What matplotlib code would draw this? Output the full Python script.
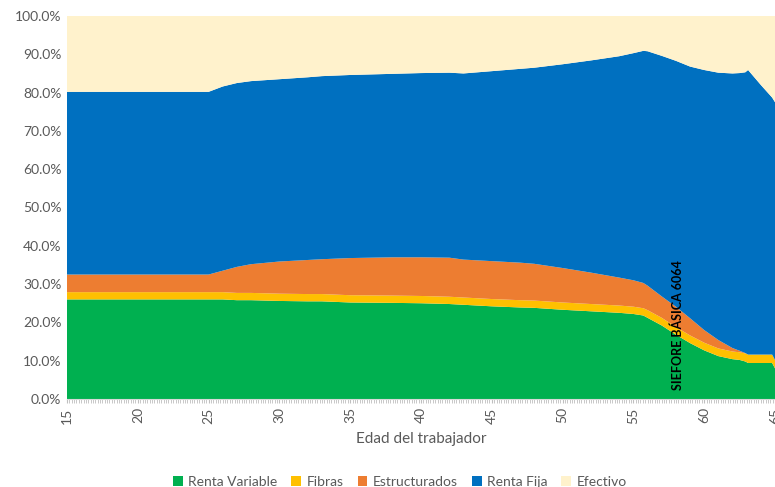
import numpy as np
import matplotlib
matplotlib.use("Agg")
import matplotlib.pyplot as plt
from matplotlib.ticker import MultipleLocator, PercentFormatter

plt.rcParams['font.family'] = ['Lato', 'DejaVu Sans']

# Edad del trabajador
edades = [15, 20, 25, 26, 27, 28, 30, 32, 33, 35, 38, 40, 42, 43, 45, 47, 48,
          50, 52, 54, 55, 55.7, 56, 57, 58, 59, 60, 61, 62, 62.5, 62.9, 63.1,
          64, 64.8, 65]

# composicion de la cartera (%)
renta_variable = [26.0, 26.0, 26.0, 26.0, 25.8, 25.8, 25.6, 25.5, 25.5, 25.2, 25.1,
                  25.0, 24.8, 24.6, 24.2, 23.9, 23.8, 23.3, 22.9, 22.5, 22.2, 21.8,
                  21.2, 19.2, 16.8, 14.6, 12.7, 11.2, 10.4, 10.2, 9.8, 9.4,
                  9.4, 9.4, 8.0]
fibras = [1.9, 1.9, 1.9, 1.9, 1.9, 1.9, 1.9, 1.9, 1.9, 1.9, 1.9,
          1.9, 1.9, 1.9, 1.9, 1.9, 1.9, 1.9, 1.9, 1.9, 1.9, 1.9,
          2.0, 2.0, 2.0, 2.0, 2.0, 2.0, 2.0, 2.0, 2.1, 2.2,
          2.2, 2.2, 2.2]
estructurados = [4.6, 4.6, 4.6, 5.6, 6.8, 7.5, 8.4, 8.9, 9.1, 9.7, 10.0,
                 10.1, 10.2, 9.9, 9.9, 9.8, 9.6, 9.0, 8.2, 7.3, 6.9, 6.6,
                 6.4, 5.6, 5.3, 4.5, 3.3, 2.2, 0.9, 0.4, 0.1, 0.0,
                 0.0, 0.0, 0.0]
renta_fija_top = [80.2, 80.2, 80.2, 81.6, 82.5, 83.0, 83.5, 84.0, 84.3, 84.6, 84.9,
                  85.1, 85.2, 85.0, 85.6, 86.2, 86.5, 87.4, 88.4, 89.5, 90.3, 90.9,
                  90.8, 89.6, 88.3, 86.8, 85.9, 85.2, 85.0, 85.1, 85.3, 85.9,
                  82.0, 78.7, 77.5]

base = np.array(renta_variable) + np.array(fibras) + np.array(estructurados)
renta_fija = list(np.array(renta_fija_top) - base)
efectivo = list(100 - np.array(renta_fija_top))

series = ['Renta Variable', 'Fibras', 'Estructurados', 'Renta Fija', 'Efectivo']
colores = ['#00B050', '#FFC000', '#ED7D31', '#0070C0', '#FFF2CC']

fig = plt.figure(figsize=(7.75, 4.87), dpi=100)
ax = fig.add_axes([67 / 775, 1 - 399 / 487, 1 - 67 / 775, (399 - 16) / 487])

ax.stackplot(edades, renta_variable, fibras, estructurados, renta_fija, efectivo,
             colors=colores, labels=series, linewidth=0)
ax.axhline(100, color='#D9D9D9', lw=0.8, zorder=0)

ax.set_xlim(15, 65)
ax.set_ylim(0, 100)
ax.xaxis.set_major_locator(MultipleLocator(5))
ax.xaxis.set_minor_locator(MultipleLocator(1 / 6))
ax.yaxis.set_major_locator(MultipleLocator(10))
ax.yaxis.set_major_formatter(PercentFormatter(decimals=1))

for s in ['top', 'right', 'left']:
    ax.spines[s].set_visible(False)
ax.spines['bottom'].set_color('#D9D9D9')
ax.tick_params(axis='x', which='both', length=3, color='#BFBFBF', labelrotation=90,
               labelsize=10, labelcolor='#595959', pad=3)
ax.tick_params(axis='y', length=0, labelsize=10, labelcolor='#595959', pad=4)

ax.set_xlabel('Edad del trabajador', fontsize=11, color='#595959', labelpad=6)

ax.text(58.15, 2.3, 'SIEFORE BÁSICA 6064', rotation=90, ha='center', va='bottom',
        fontsize=9, fontweight='bold', color='black')

fig.legend(loc='center', bbox_to_anchor=(400 / 775, 1 - 482 / 487), ncol=5,
           frameon=False, fontsize=10, labelcolor='#595959', handlelength=0.7,
           handleheight=0.7, handletextpad=0.4, columnspacing=1.0)

fig.savefig('out.png', dpi=100)
